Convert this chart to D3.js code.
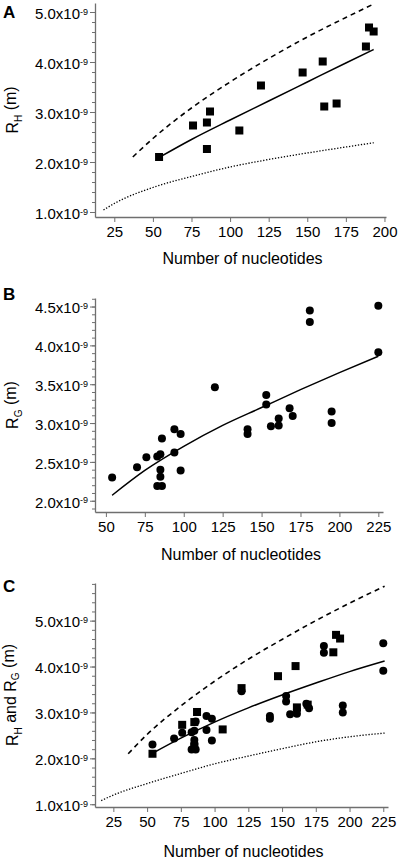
<!DOCTYPE html>
<html><head><meta charset="utf-8">
<script src="https://cdn.jsdelivr.net/npm/d3@7"></script>
<style>
body{margin:0;background:#fff}
svg text{font-family:"Liberation Sans",Arial,Helvetica,sans-serif;fill:#000}
</style>
</head><body>
<svg id="chart" width="400" height="860"></svg>
<script>
// ---------- DATA (radii in units of 1e-9 m) ----------
// Hydrodynamic radius R_H (squares)
const rhNucleotides = [54, 76, 85, 85, 87, 106, 120, 147, 160, 161, 169, 188, 190, 193];
const rhValues      = [2.10, 2.73, 2.26, 2.79, 3.01, 2.63, 3.53, 3.79, 4.01, 3.11, 3.17, 4.31, 4.69, 4.61];
// Radius of gyration R_G (circles)
const rgNucleotides = [54, 70, 76, 83, 85, 86, 85, 85, 83, 86, 94, 98, 98, 94, 120, 141, 141, 153, 153, 156, 161, 161, 168, 170, 181, 181, 195, 195, 225, 225];
const rgValues      = [2.30, 2.43, 2.56, 2.57, 2.60, 2.80, 2.40, 2.31, 2.19, 2.19, 2.62, 2.39, 2.86, 2.92, 3.46, 2.92, 2.86, 3.36, 3.24, 2.96, 3.06, 2.97, 3.19, 3.09, 4.45, 4.30, 3.15, 3.00, 4.51, 3.91];
// Curves
const fitRhX   = [54, 75, 100, 125, 150, 175, 193];
const fitRhY   = [2.09, 2.45, 2.84, 3.22, 3.60, 3.98, 4.25];
const upperRhX = [37, 50, 75, 100, 125, 150, 175, 193];
const upperRhY = [2.10, 2.47, 3.08, 3.60, 4.07, 4.50, 4.89, 5.16];
const lowerRhX = [18, 25, 50, 75, 100, 125, 150, 175, 193];
const lowerRhY = [1.04, 1.17, 1.49, 1.71, 1.90, 2.05, 2.18, 2.30, 2.385];
// Curve
const fitRgX = [54, 75, 100, 125, 150, 175, 200, 225];
const fitRgY = [2.07, 2.39, 2.70, 2.97, 3.20, 3.43, 3.65, 3.86];
// Curves
const fitAllX   = [54, 75, 100, 125, 150, 175, 200, 226];
const fitAllY   = [2.11, 2.44, 2.79, 3.10, 3.38, 3.64, 3.89, 4.12];
const upperAllX = [36, 50, 75, 100, 125, 150, 175, 200, 226];
const upperAllY = [2.10, 2.52, 3.14, 3.68, 4.16, 4.59, 5.00, 5.38, 5.75];
const lowerAllX = [16, 25, 50, 75, 100, 125, 150, 175, 200, 226];
const lowerAllY = [1.08, 1.20, 1.45, 1.67, 1.88, 2.05, 2.21, 2.36, 2.47, 2.55];
// Ticks
const xTicksA = [25, 50, 75, 100, 125, 150, 175, 200];
const xTicksB = [50, 75, 100, 125, 150, 175, 200, 225];
const xTicksC = [25, 50, 75, 100, 125, 150, 175, 200, 225];
const yTicksA = [1.0, 2.0, 3.0, 4.0, 5.0];
const yTicksB = [2.0, 2.5, 3.0, 3.5, 4.0, 4.5];
const yTicksC = [1.0, 2.0, 3.0, 4.0, 5.0];
const xTitle = "Number of nucleotides";

// ---------- DRAWING ----------
const svg = d3.select("#chart");
const AXIS = "#6f6f6f";
const zip = (a, b) => a.map((v, i) => [v, b[i]]);

function panel(o) {
  const x = d3.scaleLinear().domain(o.xDomain).range(o.xRange);
  const y = d3.scaleLinear().domain(o.yDomain).range(o.yRange);
  const g = svg.append("g");

  // minor y ticks
  const minor = d3.range(Math.ceil(o.yDomain[0] / o.yMinorStep - 1e-6), Math.floor(o.yDomain[1] / o.yMinorStep + 1e-6) + 1)
    .map(k => +(k * o.yMinorStep).toFixed(3));
  const gm = g.append("g").attr("transform", `translate(${o.xRange[0]},0)`)
    .call(d3.axisLeft(y).tickValues(minor).tickSize(3).tickFormat(""));
  gm.select(".domain").remove();
  gm.selectAll("line").attr("stroke", AXIS);

  // major y axis
  const gy = g.append("g").attr("transform", `translate(${o.xRange[0]},0)`)
    .call(d3.axisLeft(y).tickValues(o.yTicks).tickSize(5).tickSizeOuter(0).tickPadding(4));
  gy.select(".domain").attr("stroke", AXIS).attr("stroke-width", 1.3);
  gy.selectAll("line").attr("stroke", AXIS);
  gy.selectAll(".tick text").each(function(d) {
    const t = d3.select(this);
    t.text(null).attr("font-size", 15).attr("dy", "0.42em").attr("x", -7);
    t.append("tspan").text(d3.format(".1f")(d) + "x10");
    t.append("tspan").attr("dy", "-0.45em").attr("font-size", 9).text("-9");
  });

  // x axis
  const gx = g.append("g").attr("transform", `translate(0,${o.yRange[0]})`)
    .call(d3.axisBottom(x).tickValues(o.xTicks).tickSize(5).tickSizeOuter(0).tickPadding(4));
  gx.select(".domain").attr("stroke", AXIS).attr("stroke-width", 1.3);
  gx.selectAll("line").attr("stroke", AXIS);
  gx.selectAll(".tick text").attr("font-size", 15);

  // curves
  const line = d3.line().x(d => x(d[0])).y(d => y(d[1])).curve(d3.curveMonotoneX);
  (o.curves || []).forEach(c => {
    g.append("path").attr("d", line(zip(c.x, c.y))).attr("fill", "none")
      .attr("stroke", "#000").attr("stroke-width", c.w)
      .attr("stroke-dasharray", c.dash || null);
  });

  // points
  if (o.squares) {
    g.selectAll(null).data(zip(o.squares.x, o.squares.y)).enter().append("rect")
      .attr("x", d => x(d[0]) - 4).attr("y", d => y(d[1]) - 4)
      .attr("width", 8).attr("height", 8).attr("fill", "#000");
  }
  if (o.circles) {
    g.selectAll(null).data(zip(o.circles.x, o.circles.y)).enter().append("circle")
      .attr("cx", d => x(d[0])).attr("cy", d => y(d[1])).attr("r", 4).attr("fill", "#000");
  }

  // titles
  const midX = (o.xRange[0] + o.xRange[1]) / 2;
  g.append("text").attr("x", midX + 2).attr("y", o.xTitleY).attr("text-anchor", "middle")
    .attr("font-size", 16).text(xTitle);

  const midY = (o.yRange[0] + o.yRange[1]) / 2;
  const yl = g.append("text").attr("transform", `translate(18,${midY}) rotate(-90)`)
    .attr("text-anchor", "middle").attr("font-size", 16);
  o.yLabel.forEach(p => {
    const ts = yl.append("tspan").text(p.t);
    if (p.sub) ts.attr("font-size", 10).attr("dy", "0.35em");
    if (p.back) ts.attr("dy", "-0.35em");
  });

  g.append("text").attr("x", 3).attr("y", o.letterY).attr("font-size", 17)
    .attr("font-weight", "bold").text(o.letter);
}

panel({
  letter: "A", letterY: 18,
  xDomain: [12.5, 201], xRange: [95, 386],
  yDomain: [0.9, 5.18], yRange: [217, 3],
  xTicks: xTicksA, yTicks: yTicksA, yMinorStep: 0.2,
  xTitleY: 264,
  yLabel: [{t: "R"}, {t: "H", sub: true}, {t: " (m)", back: true}],
  squares: {x: rhNucleotides, y: rhValues},
  curves: [
    {x: upperRhX, y: upperRhY, w: 1.6, dash: "5,4"},
    {x: lowerRhX, y: lowerRhY, w: 1.3, dash: "1.3,1.7"},
    {x: fitRhX, y: fitRhY, w: 1.5}
  ]
});

panel({
  letter: "B", letterY: 300,
  xDomain: [43, 228], xRange: [95, 383],
  yDomain: [1.855, 4.61], yRange: [512, 298],
  xTicks: xTicksB, yTicks: yTicksB, yMinorStep: 0.1,
  xTitleY: 560,
  yLabel: [{t: "R"}, {t: "G", sub: true}, {t: " (m)", back: true}],
  circles: {x: rgNucleotides, y: rgValues},
  curves: [
    {x: fitRgX, y: fitRgY, w: 1.5}
  ]
});

panel({
  letter: "C", letterY: 592,
  xDomain: [11.4, 228.5], xRange: [95, 388],
  yDomain: [0.94, 5.82], yRange: [807, 583],
  xTicks: xTicksC, yTicks: yTicksC, yMinorStep: 0.2,
  xTitleY: 857,
  yLabel: [{t: "R"}, {t: "H", sub: true}, {t: " and R", back: true}, {t: "G", sub: true}, {t: " (m)", back: true}],
  squares: {x: rhNucleotides, y: rhValues},
  circles: {x: rgNucleotides, y: rgValues},
  curves: [
    {x: upperAllX, y: upperAllY, w: 1.6, dash: "5,4"},
    {x: lowerAllX, y: lowerAllY, w: 1.3, dash: "1.3,1.7"},
    {x: fitAllX, y: fitAllY, w: 1.5}
  ]
});
</script>
</body></html>
